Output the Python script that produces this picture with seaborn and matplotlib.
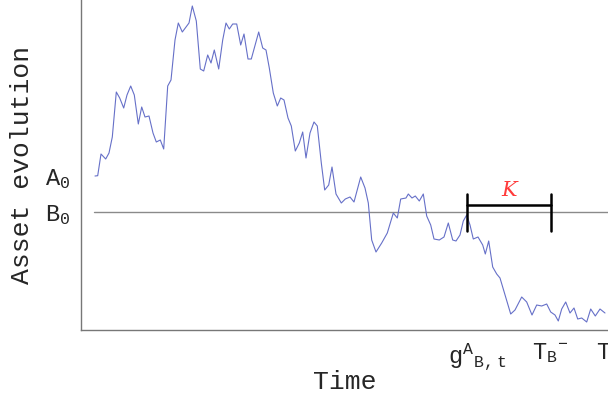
import matplotlib
matplotlib.use("Agg")
import matplotlib.pyplot as plt
import seaborn as sns
import pandas as pd

# asset path (time, value)
time = [14, 16.7, 20, 24.7, 28, 31.3, 35.3, 38.7, 42.7, 46,
        49.7, 53.3, 57.3, 60.7, 64, 68, 72, 75.3, 79.3, 82.7,
        86.7, 90, 94, 97.3, 101.3, 108, 111.3, 115.3, 119.3, 122.7,
        126.7, 130, 133.3, 137.7, 141.7, 145, 148.3, 151.7, 155.7, 159.7,
        163, 167, 170.3, 177.7, 181.7, 185, 188.3, 192.3, 196.3, 199.7,
        203, 207, 210.3, 214.3, 218.3, 221.7, 225, 229, 233, 236.3,
        240.3, 243.7, 247.7, 251, 255, 260.3, 264.3, 269, 273, 279.7,
        284, 287.3, 290.7, 295, 300.7, 306.3, 312.3, 316.3, 319.7, 325,
        327.3, 331, 334.3, 338.3, 342.3, 345.7, 349.7, 353, 358.3, 363,
        367.3, 371.7, 375, 379, 382.3, 385.7, 389, 392.3, 397, 401.7,
        404.3, 407.7, 411.7, 415.7, 419, 429.7, 434, 440.7, 445.7, 451,
        455.7, 460.7, 465.7, 469.7, 474, 477.3, 480.7, 484.7, 489, 493,
        496.7, 500.7, 505.7, 509.7, 514.3, 519, 524]
value = [154, 154.3, 176, 171, 177, 193, 238, 232, 222, 235,
         244, 235, 206, 223, 213, 214, 197, 188, 190, 181,
         244, 250, 290, 307, 298, 307, 324, 309, 261, 259,
         275, 267, 280, 261, 290, 307, 301, 306, 306, 285,
         296, 271, 271, 298, 282, 280, 262, 237, 224, 232,
         230, 212, 204, 179, 187, 198, 172, 197, 208, 204,
         167, 140, 145, 163, 136, 127, 131, 133, 128, 153,
         142, 127, 90, 78, 87, 97, 117, 112, 131, 132,
         136, 132, 134, 129, 136, 114, 105, 91, 90, 93,
         107, 90, 89, 95, 109, 115, 105, 91, 93, 85,
         76, 89, 63, 56, 52, 16, 20, 33, 28, 15,
         25, 24, 26, 18, 15, 9, 21, 28, 17, 22,
         11, 12, 8, 21, 14, 21, 17]

A0 = 154
B0 = 118
b0_start = 13
t_end = 527

x_ticks = [396, 469, 522]
x_labels = [r"$\mathrm{g}^{\mathrm{A}}{}_{\mathrm{B,\,t}}$",
            r"$\mathrm{T}_{\mathrm{B}}{}^{-}$",
            "T"]
y_ticks = [B0, A0]
y_labels = [r"B$_0$", r"A$_0$"]

k_start = 385.7
k_end = 469.7
k_level = 125
k_half = 18

sns.set_style("white")
plt.rcParams["font.family"] = ["Liberation Mono", "DejaVu Sans"]
plt.rcParams["mathtext.fontset"] = "custom"
plt.rcParams["mathtext.rm"] = "Liberation Mono"
plt.rcParams["mathtext.it"] = "Liberation Mono:italic"
plt.rcParams["mathtext.tt"] = "Liberation Mono"

df = pd.DataFrame({"time": time, "value": value})

fig = plt.figure(figsize=(6.08, 3.98), dpi=100)
ax = fig.add_axes([81 / 608, 68 / 398, 527 / 608, 330 / 398])

ax.plot([b0_start, t_end], [B0, B0], color="#8a8a8a", lw=1.0)
sns.lineplot(data=df, x="time", y="value", ax=ax, color="#6670c8", lw=0.8)

# K bracket
ax.plot([k_start, k_end], [k_level, k_level], color="black", lw=1.8)
ax.plot([k_start, k_start], [k_level - k_half - 8, k_level + k_half - 7],
        color="black", lw=1.8)
ax.plot([k_end, k_end], [k_level - k_half - 8, k_level + k_half - 7],
        color="black", lw=1.8)
ax.text((k_start + k_end) / 2, k_level + 5, "K", color="#ff3b3b",
        fontsize=15, fontstyle="italic", family="DejaVu Serif",
        ha="center", va="bottom")

ax.set_xlim(0, t_end)
ax.set_ylim(0, 330)
ax.set_xticks(x_ticks)
ax.set_xticklabels(x_labels)
ax.set_yticks(y_ticks)
ax.set_yticklabels(y_labels)
ax.tick_params(direction="in", length=4, width=0.8, color="#777777",
               labelsize=17, pad=8)

for s in ["top", "right"]:
    ax.spines[s].set_visible(False)
for s in ["left", "bottom"]:
    ax.spines[s].set_color("#777777")
    ax.spines[s].set_linewidth(1.0)

ax.set_xlabel("Time", fontsize=19)
ax.set_ylabel("Asset evolution", fontsize=19)
ax.xaxis.set_label_coords(0.5, -0.12)
ax.yaxis.set_label_coords(-0.09, 0.5)

fig.savefig("out.png", dpi=100)
